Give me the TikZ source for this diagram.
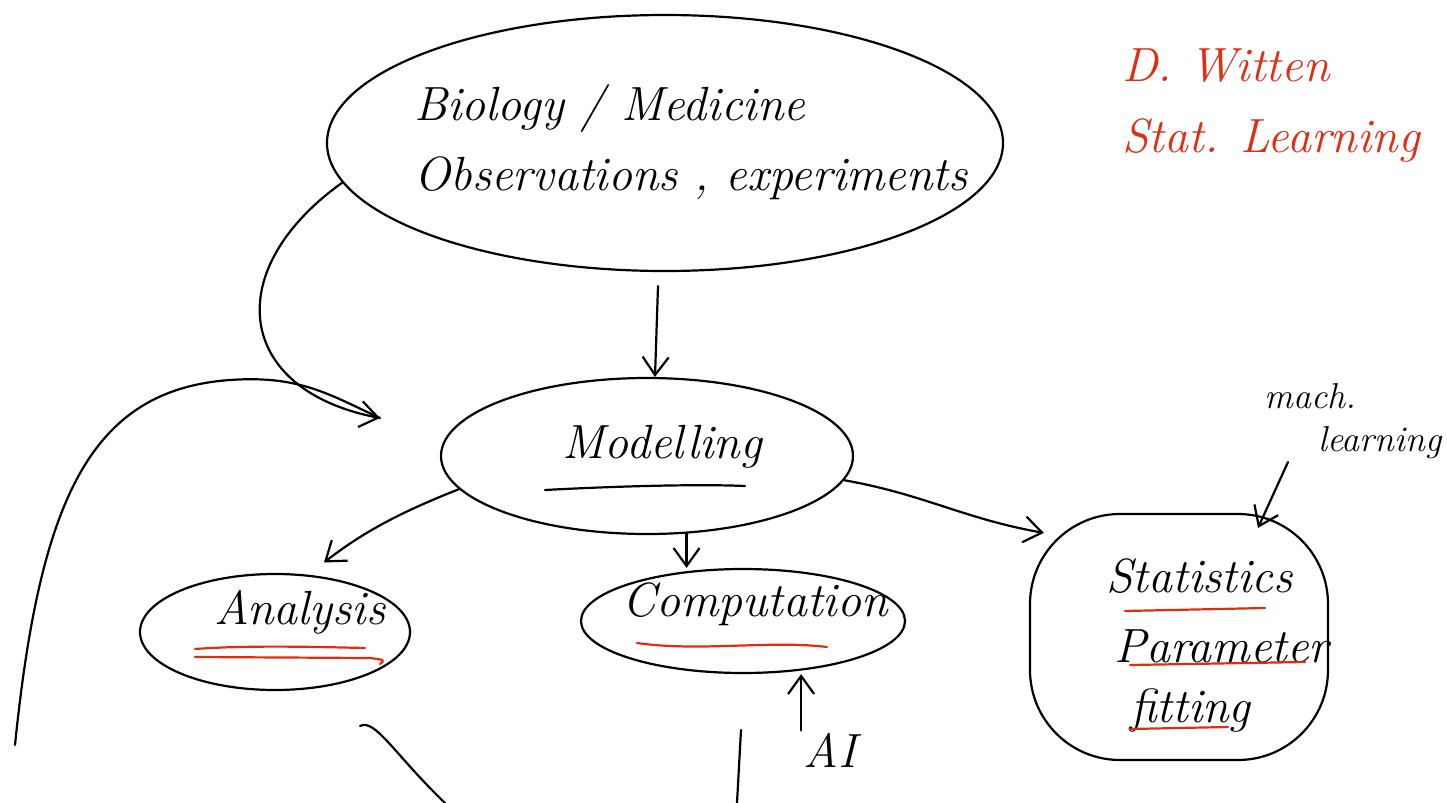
\documentclass[tikz,border=0pt]{standalone}
\usepackage{tikz}
\usetikzlibrary{shapes.geometric}
\usetikzlibrary{arrows.meta}
\usetikzlibrary{calc}
\definecolor{rouge}{RGB}{226,44,18}
\tikzset{
  bulle/.style={draw, ellipse, line width=1.1pt, inner sep=0pt},
  cadre/.style={draw, rounded corners=45pt, line width=1.1pt, inner sep=0pt},
  trait/.style={line width=1.1pt, line cap=round},
  fleche/.style={line width=1.1pt, line cap=round, -{Straight Barb[length=9pt,width=13pt]}},
  souligne/.style={rouge, line width=1.1pt, line cap=round},
  ecrit/.style={font=\fontsize{24}{35}\selectfont\itshape, inner sep=1pt},
  petit/.style={font=\fontsize{18}{22}\selectfont\itshape, inner sep=1pt},
}

\begin{document}
\begin{tikzpicture}[x=0.5pt,y=-0.5pt]
    \useasboundingbox (0,0) rectangle (1447,803);

    % --- Bulles et cadre ---
    \node[bulle, minimum width=338pt, minimum height=128pt] (bio) at (665,143) {};
    \node[bulle, minimum width=206pt, minimum height=78pt] (model) at (647,456) {};
    \node[bulle, minimum width=135pt, minimum height=58pt] (ana) at (275,632) {};
    \node[bulle, minimum width=162pt, minimum height=52pt] (comp) at (743,621) {};
    \node[cadre, minimum width=149pt, minimum height=123pt] (stat) at (1179,637) {};

    % --- Textes ---
    \node[ecrit, align=left, anchor=west] (biot) at (412,142) {Biology / Medicine\\Observations , experiments};
    \node[ecrit] (modelt) at (662,447) {Modelling};
    \node[ecrit] (anat) at (300,612) {Analysis};
    \node[ecrit] (compt) at (755,604) {Computation};
    \node[ecrit, anchor=west] (stat1) at (1104,576) {Statistics};
    \node[ecrit, anchor=west] (stat2) at (1112,646) {Parameter};
    \node[ecrit, anchor=west] (stat3) at (1128,710) {fitting};
    \node[petit, anchor=west] (ml1) at (1262,396) {mach.};
    \node[petit, anchor=west] (ml2) at (1316,443) {learning};
    \node[ecrit] (ai) at (830,750) {AI};
    \node[ecrit, rouge, anchor=west] (auteur) at (1120,66) {D. Witten};
    \node[ecrit, rouge, anchor=west] (livre) at (1120,140) {Stat. Learning};

    % --- Points libres ---
    \coordinate (retour) at (380,418);
    \coordinate (depart) at (15,745);
    \coordinate (mlpied) at (1288,462);
    \coordinate (barreA) at (741,730);
    \coordinate (barreB) at (737,803);
    \coordinate (basA) at (360,726);
    \coordinate (basB) at (445,803);

    % --- Fleches ---
    \draw[fleche] ($(bio.south)+(-7,14)$) -- ($(model.north)+(8,0)$);
    \draw[fleche] (bio.187) .. controls (220,270) and (235,390) .. (retour);
    \draw[trait] (depart) .. controls (40,500) and (90,390) .. (230,380)
                          .. controls (300,375) and (330,395) .. (retour);
    \draw[fleche, shorten >=10pt] (model.190) to[bend right=8] (ana.60);
    \draw[fleche] (model.297) -- (model.297 |- comp.north);
    \draw[fleche] (model.353) to[out=-10,in=170] ($(stat.north west)+(15,20)$);
    \draw[fleche] (mlpied) -- ($(stat.north)+(79,15)$);
    \draw[fleche] (ai.north west) -- (ai.north west |- comp.south);
    \draw[trait] (barreA) -- (barreB);
    \draw[trait] (basA) .. controls (375,718) and (395,755) .. (basB);

    % --- Soulignements ---
    \draw[trait] (545,490) .. controls (620,486) and (700,484) .. (745,486);
    \draw[souligne] (195,649) .. controls (250,645) and (320,647) .. (365,648);
    \draw[souligne] (195,657) -- (370,658) .. controls (385,660) .. (380,664);
    \draw[souligne] (637,643) .. controls (700,652) and (770,640) .. (827,647);
    \draw[souligne] (1125,611) -- (1265,608);
    \draw[souligne] (1130,665) -- (1305,662);
    \draw[souligne] (1130,729) -- (1228,727);

\end{tikzpicture}
\end{document}
